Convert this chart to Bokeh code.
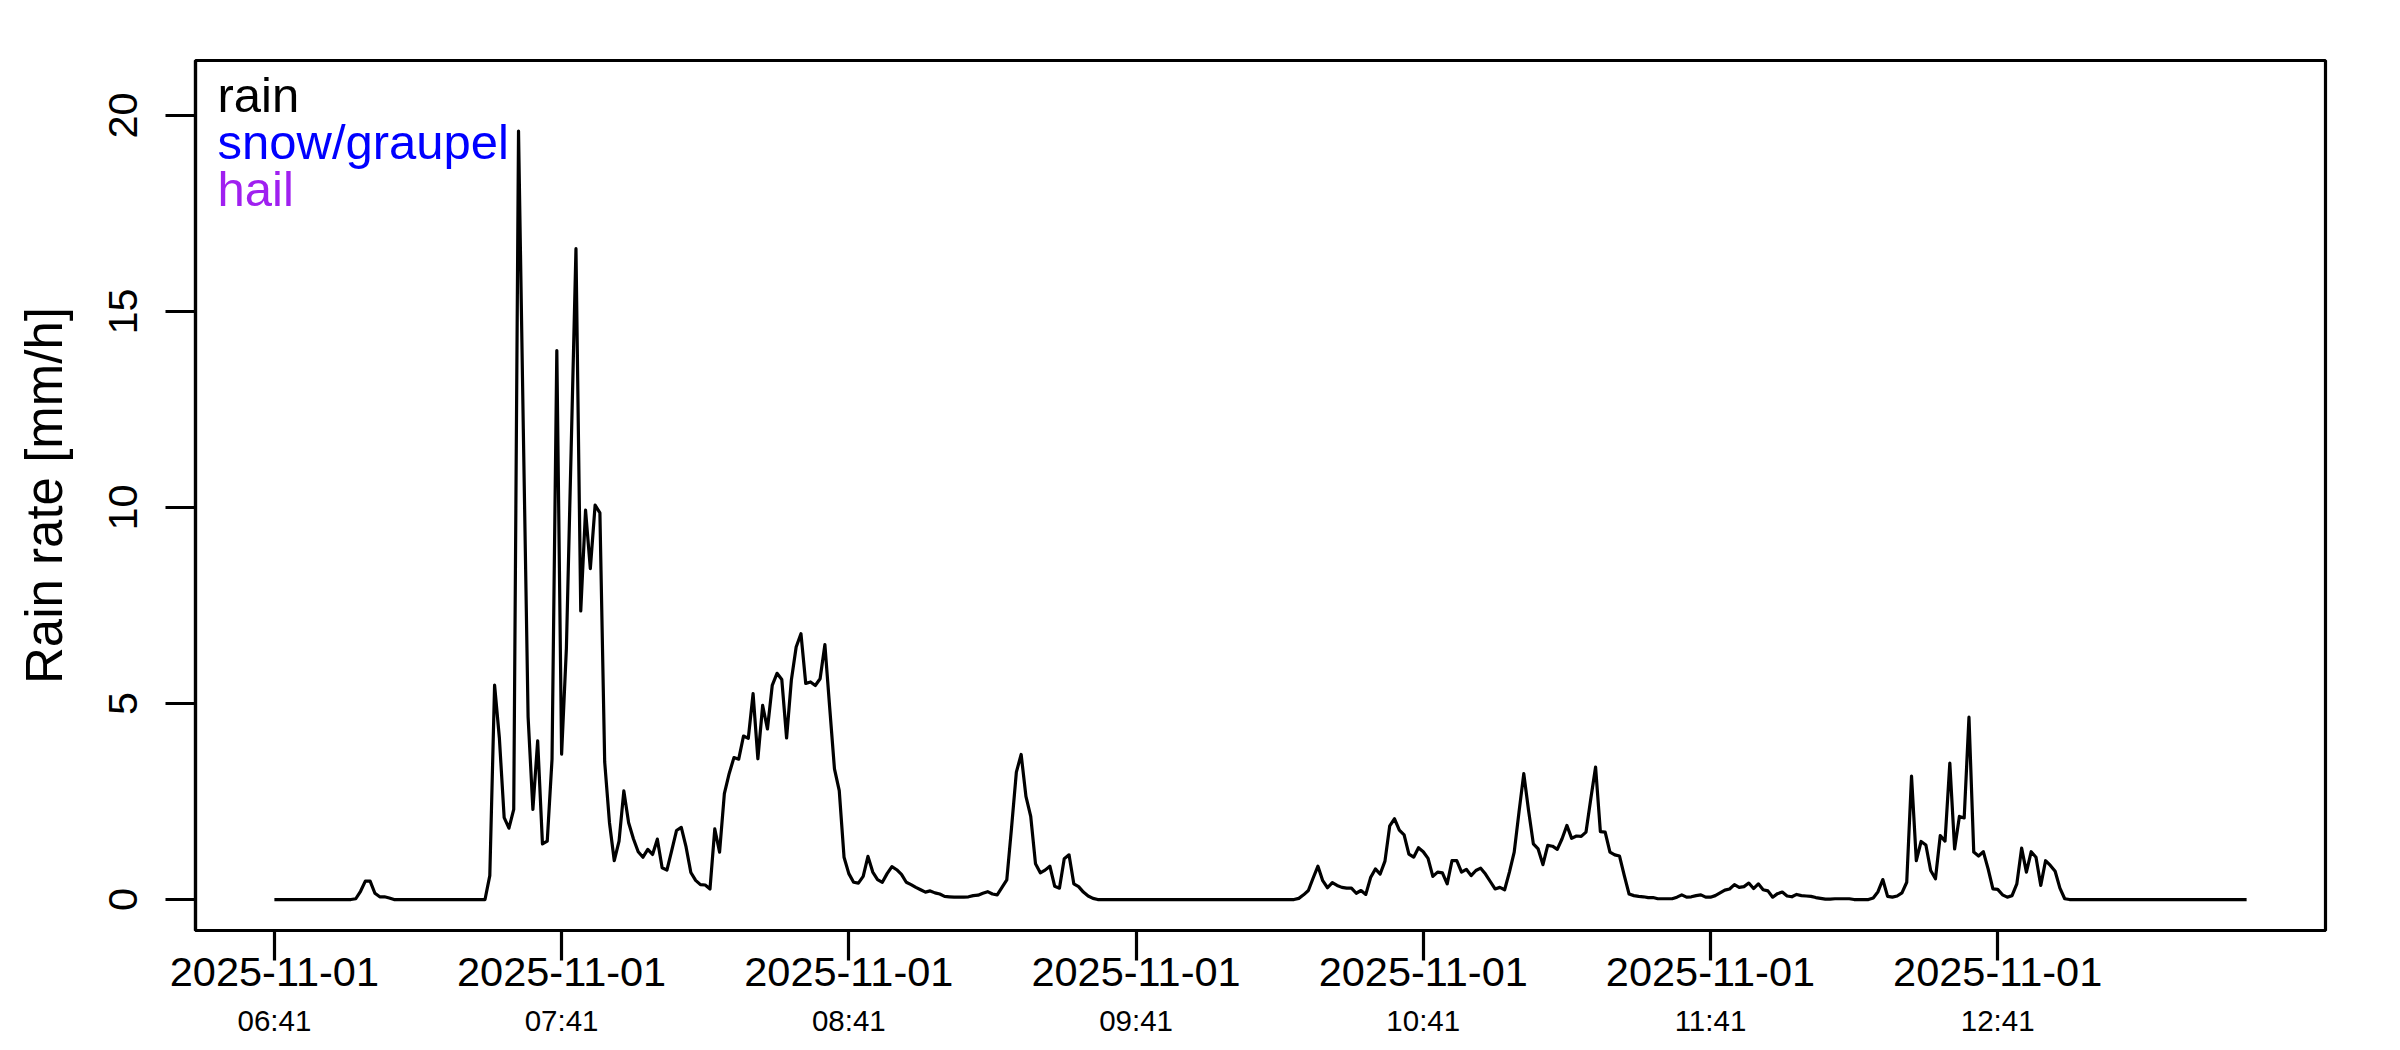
from bokeh.plotting import figure
from bokeh.models import Range1d, LinearAxis, FixedTicker, Label
from bokeh.embed import file_html
from bokeh.resources import INLINE

# ---------------- data (1-minute rain rate, starting 2025-11-01 06:41) ----------------
rain_rate = (
    [0.0] * 17
    + [0.02, 0.21, 0.47, 0.47, 0.16, 0.07, 0.07, 0.04]
    + [0.0] * 19
    + [0.0, 0.61, 5.47, 4.12, 2.09, 1.82, 2.30, 19.6, 12.0, 4.66,
       2.30, 4.05, 1.42, 1.49, 3.58, 14.0, 3.71, 6.41, 11.5, 16.6,
       7.36, 9.93, 8.44, 10.06, 9.86, 3.51, 1.96, 0.99, 1.49, 2.77,
       1.96, 1.55, 1.22, 1.08, 1.28, 1.15, 1.54, 0.81, 0.75, 1.25,
       1.76, 1.84, 1.34, 0.69, 0.49, 0.38, 0.37, 0.27, 1.80, 1.21,
       2.70, 3.21, 3.62, 3.58, 4.17, 4.11, 5.25, 3.59, 4.95, 4.35,
       5.46, 5.77, 5.61, 4.12, 5.60, 6.44, 6.78, 5.51, 5.55, 5.46,
       5.63, 6.50, 4.90, 3.33, 2.78, 1.08, 0.66, 0.44, 0.42, 0.59,
       1.10, 0.70, 0.51, 0.44, 0.66, 0.84, 0.76, 0.64, 0.44, 0.38,
       0.31, 0.25, 0.19, 0.22, 0.17, 0.14, 0.08, 0.07, 0.06, 0.06,
       0.06, 0.07, 0.10, 0.11, 0.16, 0.20, 0.14, 0.12, 0.31, 0.50,
       1.84, 3.25, 3.70, 2.63, 2.12, 0.91, 0.68, 0.75, 0.85, 0.34,
       0.29, 1.04, 1.14, 0.40, 0.33, 0.19, 0.09, 0.03]
    + [0.0] * 42
    + [0.03, 0.12, 0.23, 0.55, 0.85, 0.48, 0.30, 0.43, 0.36, 0.31,
       0.29, 0.29, 0.16, 0.23, 0.13, 0.56, 0.78, 0.65, 0.98, 1.88,
       2.06, 1.77, 1.65, 1.16, 1.08, 1.32, 1.22, 1.05, 0.59, 0.70,
       0.68, 0.40, 0.99, 0.99, 0.70, 0.77, 0.61, 0.74, 0.80, 0.65,
       0.46, 0.27, 0.31, 0.25, 0.70, 1.21, 2.23, 3.21, 2.27, 1.42,
       1.29, 0.89, 1.38, 1.36, 1.28, 1.55, 1.89, 1.56, 1.62, 1.61,
       1.72, 2.57, 3.38, 1.73, 1.72, 1.21, 1.14, 1.11, 0.61, 0.14,
       0.10, 0.08, 0.07, 0.05, 0.05, 0.02, 0.02, 0.02, 0.02, 0.06,
       0.12, 0.06, 0.07, 0.10,
       0.12, 0.06, 0.06, 0.10, 0.17, 0.24, 0.27, 0.38, 0.31, 0.33,
       0.42, 0.28, 0.40, 0.25, 0.22, 0.06, 0.15, 0.19, 0.09, 0.07,
       0.13, 0.10, 0.09, 0.08, 0.05, 0.03, 0.01, 0.01, 0.02, 0.02,
       0.02, 0.02, 0.0, 0.0, 0.0, 0.0, 0.04, 0.20, 0.51, 0.08,
       0.06, 0.09, 0.17, 0.44, 3.15, 0.99, 1.48, 1.39, 0.74, 0.53,
       1.63, 1.49, 3.48, 1.29, 2.12, 2.08, 4.65, 1.21, 1.11, 1.22,
       0.78, 0.27, 0.26, 0.12, 0.06, 0.10, 0.40, 1.31, 0.70, 1.22,
       1.08, 0.36, 0.99, 0.87, 0.72, 0.29, 0.02]
    + [0.0] * 38
)
minutes = list(range(len(rain_rate)))  # minutes since 06:41

tick_minutes = [0, 60, 120, 180, 240, 300, 360]
tick_dates = ["2025-11-01"] * 7
tick_times = ["06:41", "07:41", "08:41", "09:41", "10:41", "11:41", "12:41"]
y_ticks = [0, 5, 10, 15, 20]
y_title = "Rain rate [mm/h]"
legend_labels = ["rain", "snow/graupel", "hail"]
legend_colors = ["black", "#0000FF", "#A020F0"]

FONT = "Liberation Sans"

# ---------------- figure ----------------
n = len(rain_rate) - 1
pad = 0.04 * n
x0, x1 = -pad, n + pad
y0, y1 = -0.79, 21.40

FW, FH = 2400, 1050
ML, MR, MT, MB = 195, 75, 60, 120

p = figure(width=FW, height=FH, output_backend="svg", toolbar_location=None,
           x_range=Range1d(x0, x1), y_range=Range1d(y0, y1),
           x_axis_type=None, y_axis_type=None,
           min_border_left=ML, min_border_right=MR,
           min_border_top=MT, min_border_bottom=MB)
p.grid.visible = False
p.outline_line_color = "black"
p.outline_line_width = 3.2
p.background_fill_color = "white"
p.border_fill_color = "white"

# y axis
yax = LinearAxis(ticker=FixedTicker(ticks=y_ticks))
yax.major_tick_out = 30
yax.major_tick_in = 0
yax.minor_tick_out = 0
yax.minor_tick_in = 0
yax.axis_line_width = 3.2
yax.major_tick_line_width = 3.2
yax.major_label_orientation = "vertical"
yax.major_label_text_font = FONT
yax.major_label_text_font_size = "41.5px"
yax.major_label_text_color = "black"
yax.major_label_standoff = 28
yax.axis_label = y_title
yax.axis_label_text_font = FONT
yax.axis_label_text_font_size = "51px"
yax.axis_label_text_font_style = "normal"
yax.axis_label_text_color = "black"
yax.axis_label_standoff = 34
p.add_layout(yax, "left")

# x axis: dates
xax = LinearAxis(ticker=FixedTicker(ticks=tick_minutes))
xax.major_label_overrides = {t: d for t, d in zip(tick_minutes, tick_dates)}
xax.major_tick_out = 30
xax.major_tick_in = 0
xax.minor_tick_out = 0
xax.minor_tick_in = 0
xax.axis_line_width = 3.2
xax.major_tick_line_width = 3.2
xax.major_label_text_font = FONT
xax.major_label_text_font_size = "41.5px"
xax.major_label_text_color = "black"
xax.major_label_standoff = -3
p.add_layout(xax, "below")

# x axis: times (second row)
tax = LinearAxis(ticker=FixedTicker(ticks=tick_minutes))
tax.major_label_overrides = {t: s for t, s in zip(tick_minutes, tick_times)}
tax.major_tick_out = 0
tax.major_tick_in = 0
tax.minor_tick_out = 0
tax.minor_tick_in = 0
tax.axis_line_color = None
tax.major_tick_line_color = None
tax.major_label_text_font = FONT
tax.major_label_text_font_size = "29.5px"
tax.major_label_text_color = "black"
tax.major_label_standoff = 15
p.add_layout(tax, "below")

# data line
p.line(minutes, rain_rate, line_color="black", line_width=3.2, line_join="round")

# legend (text only, as in the reference)
frame_w = FW - ML - MR
frame_h = FH - MT - MB
ux = (x1 - x0) / frame_w
uy = (y1 - y0) / frame_h
leg_left_px = 22
leg_baseline_px = [34, 81, 128]
for lab, col, off in zip(legend_labels, legend_colors, leg_baseline_px):
    p.add_layout(Label(x=x0 + leg_left_px * ux, y=y1 - off * uy, text=lab,
                       text_color=col, text_font=FONT, text_font_size="49px",
                       text_baseline="alphabetic", text_align="left"))

open("out.html", "w").write(file_html(p, INLINE))
